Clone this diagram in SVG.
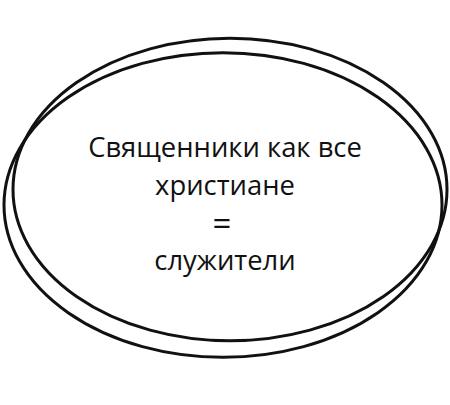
<svg xmlns="http://www.w3.org/2000/svg" width="450" height="405" viewBox="0 0 450 405">
<style>
.ring{fill:none;stroke:#111;stroke-width:3}
.lbl{font-family:"Open Sans","Noto Sans","DejaVu Sans",sans-serif;font-size:27.4px;fill:#111;text-anchor:middle}
.eq{font-size:33px}
</style>
<rect width="450" height="405" fill="#fff"/>
<g id="node-outer">
<ellipse class="ring" cx="230" cy="189.5" rx="217" ry="151.2"/>
</g>
<g id="node-inner">
<ellipse class="ring" cx="223" cy="205" rx="219" ry="152.3"/>
</g>
<g id="connectors"></g>
<g id="node-label">
<text class="lbl" x="225" y="157">Священники как все</text>
<text class="lbl" x="225" y="194.5">христиане</text>
<text class="lbl eq" x="222" y="235">=</text>
<text class="lbl" x="225" y="270">служители</text>
</g>
</svg>
